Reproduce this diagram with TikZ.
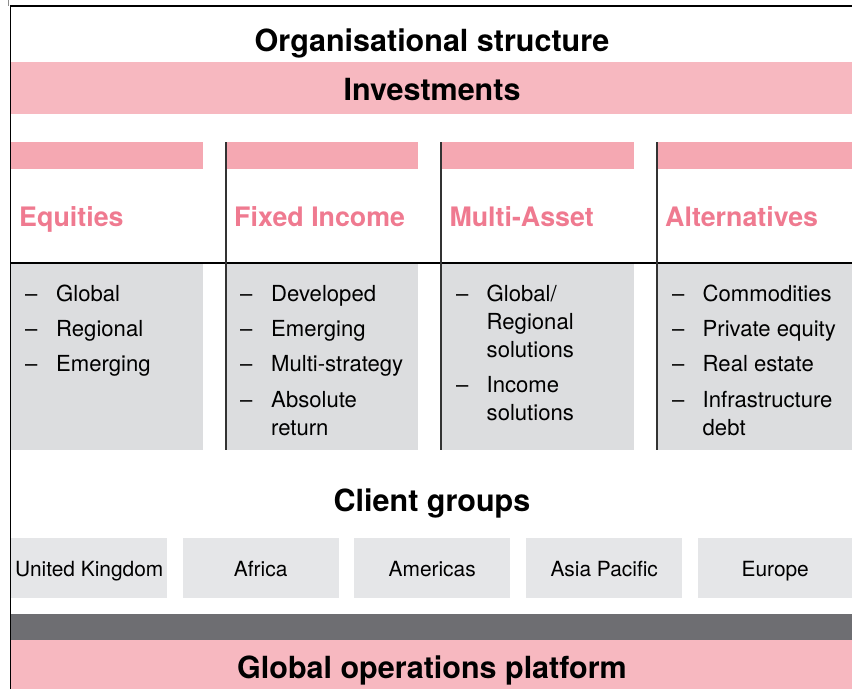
\documentclass[tikz,border=0pt]{standalone}
\usepackage{fontspec}
\setmainfont{TeX Gyre Heros}
\definecolor{pinkbar}{HTML}{F7B8C0}
\definecolor{headpink}{HTML}{F5A8B2}
\definecolor{titlepink}{HTML}{EF7A90}
\definecolor{greybox}{HTML}{DCDDDF}
\definecolor{clientgrey}{HTML}{E5E6E8}
\definecolor{darkbar}{HTML}{6E6E72}
\begin{document}
\begin{tikzpicture}[x=1pt,y=-1pt,
  bar/.style={anchor=north west, inner sep=0pt, outer sep=0pt, draw=none},
  bigtitle/.style={anchor=base, inner sep=0pt, font=\fontsize{30.5}{36}\selectfont\bfseries},
  colhead/.style={anchor=base west, inner sep=0pt, text=titlepink, font=\fontsize{26.8}{30}\selectfont\bfseries},
  itm/.style={anchor=base west, inner sep=0pt, font=\fontsize{22.1}{26}\selectfont},
  client/.style={anchor=north west, fill=clientgrey, inner sep=0pt, minimum width=156pt, minimum height=60pt, text height=17pt, text depth=0pt, font=\fontsize{20.9}{24}\selectfont},
  colline/.style={line width=1.2pt, draw=black!80}
]
\useasboundingbox (0,0) rectangle (852,689);
% frame
\coordinate (tl) at (10.5,6);
\coordinate (tr) at (852,6);
\coordinate (bl) at (10.5,689);
\coordinate (g0) at (8.5,0);
\coordinate (g1) at (8.5,6);
\draw[line width=0.8pt, draw=black!45] (g0) -- (g1);
% title
\node[bigtitle] (title) at (432,51) {Organisational structure};
% investments bar
\node[bar, fill=pinkbar, minimum width=841pt, minimum height=52pt] (invbar) at (11,62) {};
\node[bigtitle] (inv) at (432,100) {Investments};
% header bars
\node[bar, fill=headpink, minimum width=192pt, minimum height=26.5pt] (hb1) at (11,142) {};
\node[bar, fill=headpink, minimum width=192pt, minimum height=26.5pt] (hb2) at (226,142) {};
\node[bar, fill=headpink, minimum width=193pt, minimum height=26.5pt] (hb3) at (441,142) {};
\node[bar, fill=headpink, minimum width=195pt, minimum height=26.5pt] (hb4) at (657,142) {};
% grey boxes
\node[bar, fill=greybox, minimum width=192pt, minimum height=186pt] (gb1) at (11,264) {};
\node[bar, fill=greybox, minimum width=192pt, minimum height=186pt] (gb2) at (226,264) {};
\node[bar, fill=greybox, minimum width=193pt, minimum height=186pt] (gb3) at (441,264) {};
\node[bar, fill=greybox, minimum width=195pt, minimum height=186pt] (gb4) at (657,264) {};
% column headings
\node[colhead] (h1) at (19,226.7) {Equities};
\node[colhead] (h2) at (234,226.7) {Fixed Income};
\node[colhead] (h3) at (449.3,226.7) {Multi-Asset};
\node[colhead] (h4) at (665,226.7) {Alternatives};
% horizontal rule
\coordinate (hl) at (10.5,263);
\coordinate (hr) at (852,263);
\draw[line width=2pt] (hl) -- (hr);
% column lines
\draw[colline] (hb2.north west) -- (gb2.south west);
\draw[colline] (hb3.north west) -- (gb3.south west);
\draw[colline] (hb4.north west) -- (gb4.south west);
% outer frame
\draw[line width=1.5pt] (bl) -- (tl) -- (tr);
% Equities items
\node[itm] (e1d) at (25,301.5) {–}; \node[itm] (e1) at (56,301.5) {Global};
\node[itm] (e2d) at (25,336.5) {–}; \node[itm] (e2) at (56,336.5) {Regional};
\node[itm] (e3d) at (25,371.5) {–}; \node[itm] (e3) at (56,371.5) {Emerging};
% Fixed income items
\node[itm] (f1d) at (240,301.5) {–}; \node[itm] (f1) at (271,301.5) {Developed};
\node[itm] (f2d) at (240,336.5) {–}; \node[itm] (f2) at (271,336.5) {Emerging};
\node[itm] (f3d) at (240,371.5) {–}; \node[itm] (f3) at (271,371.5) {Multi-strategy};
\node[itm] (f4d) at (240,407) {–}; \node[itm] (f4) at (271,407) {Absolute};
\node[itm] (f4b) at (271,435) {return};
% Multi-asset items
\node[itm] (m1d) at (456,301.5) {–}; \node[itm] (m1) at (486.5,301.5) {Global/};
\node[itm] (m1b) at (486.5,329.3) {Regional};
\node[itm] (m1c) at (486.5,357) {solutions};
\node[itm] (m2d) at (456,392.5) {–}; \node[itm] (m2) at (486.5,392.5) {Income};
\node[itm] (m2b) at (486.5,420.5) {solutions};
% Alternatives items
\node[itm] (a1d) at (672,301.5) {–}; \node[itm] (a1) at (702.5,301.5) {Commodities};
\node[itm] (a2d) at (672,336.5) {–}; \node[itm] (a2) at (702.5,336.5) {Private equity};
\node[itm] (a3d) at (672,371.5) {–}; \node[itm] (a3) at (702.5,371.5) {Real estate};
\node[itm] (a4d) at (672,407) {–}; \node[itm] (a4) at (702.5,407) {Infrastructure};
\node[itm] (a4b) at (702.5,435) {debt};
% client groups
\node[bigtitle] (cg) at (432,511) {Client groups};
\node[client] (uk) at (11,538) {United Kingdom};
\node[client] (af) at (182.5,538) {Africa};
\node[client] (am) at (354,538) {Americas};
\node[client] (ap) at (526,538) {Asia Pacific};
\node[client, minimum width=154pt] (eu) at (698,538) {Europe};
% bottom bars
\node[bar, fill=darkbar, minimum width=841pt, minimum height=26pt] (dark) at (11,614) {};
\node[bar, fill=pinkbar, minimum width=841pt, minimum height=49pt] (gop) at (11,640) {};
\node[bigtitle] (gopt) at (432,678) {Global operations platform};
\end{tikzpicture}
\end{document}
